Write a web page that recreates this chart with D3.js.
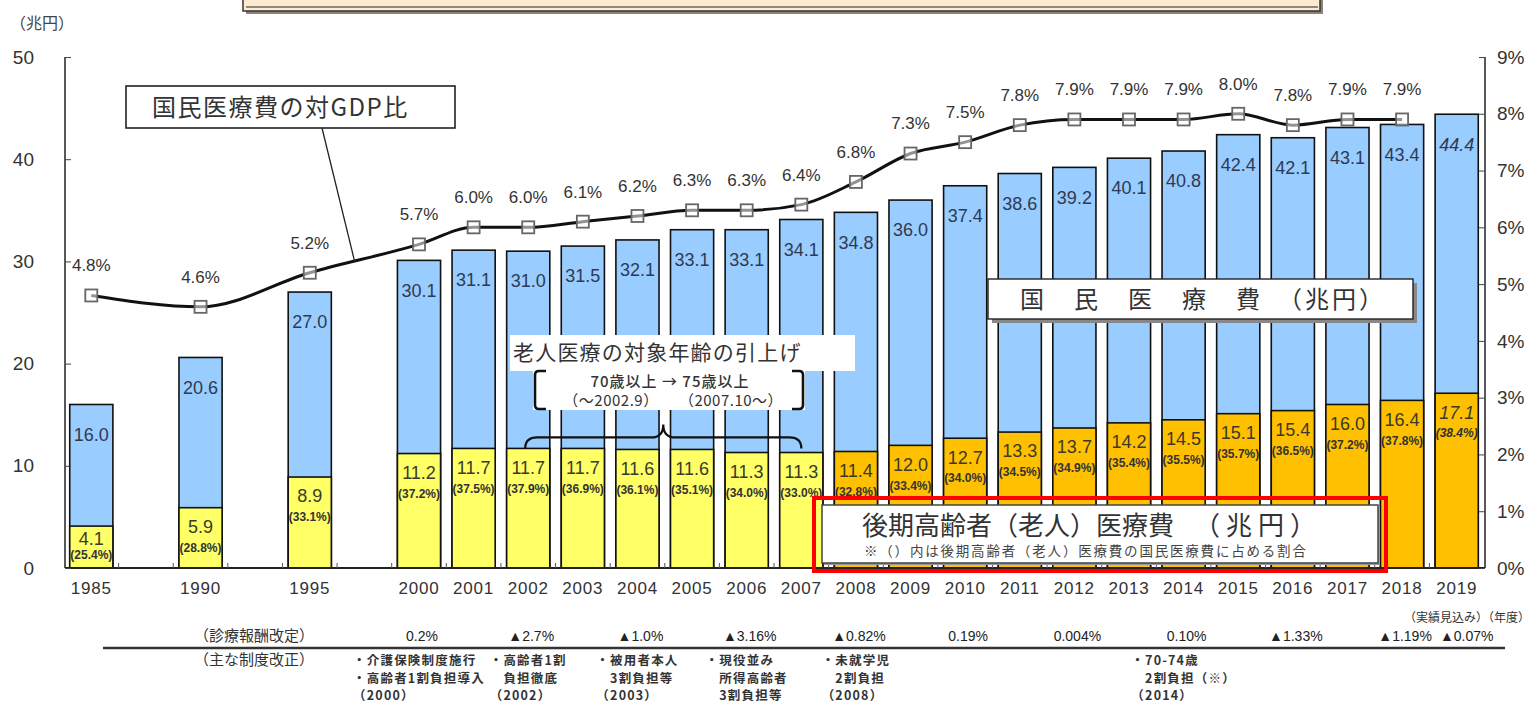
<!DOCTYPE html>
<html lang="ja">
<head>
<meta charset="utf-8">
<title>国民医療費・後期高齢者医療費の推移</title>
<script src="https://cdn.jsdelivr.net/npm/d3@7"></script>
<style>
  html, body { margin: 0; padding: 0; background: #fff; }
  svg { display: block; }
  .num { font-family: "Liberation Sans", Arial, sans-serif; }
  .jp { font-family: "Noto Sans CJK JP", "Noto Sans", sans-serif; }
</style>
</head>
<body>
<svg id="chart" width="1536" height="707"></svg>
<script>
// 年度
const years = ["1985","1990","1995","2000","2001","2002","2003","2004","2005","2006","2007",
  "2008","2009","2010","2011","2012","2013","2014","2015","2016","2017","2018","2019"];
// 国民医療費（兆円）
const totalCost = [16.0, 20.6, 27.0, 30.1, 31.1, 31.0, 31.5, 32.1, 33.1, 33.1, 34.1,
  34.8, 36.0, 37.4, 38.6, 39.2, 40.1, 40.8, 42.4, 42.1, 43.1, 43.4, 44.4];
// 後期高齢者（老人）医療費（兆円）
const elderlyCost = [4.1, 5.9, 8.9, 11.2, 11.7, 11.7, 11.7, 11.6, 11.6, 11.3, 11.3,
  11.4, 12.0, 12.7, 13.3, 13.7, 14.2, 14.5, 15.1, 15.4, 16.0, 16.4, 17.1];
// 後期高齢者（老人）医療費の国民医療費に占める割合（%）
const elderlyShare = [25.4, 28.8, 33.1, 37.2, 37.5, 37.9, 36.9, 36.1, 35.1, 34.0, 33.0,
  32.8, 33.4, 34.0, 34.5, 34.9, 35.4, 35.5, 35.7, 36.5, 37.2, 37.8, 38.4];
// 国民医療費の対GDP比（%）
const gdpRatio = [4.8, 4.6, 5.2, 5.7, 6.0, 6.0, 6.1, 6.2, 6.3, 6.3, 6.4,
  6.8, 7.3, 7.5, 7.8, 7.9, 7.9, 7.9, 8.0, 7.8, 7.9, 7.9, null];
// 後期高齢者医療制度の開始年度と見込み年度
const lateStageStart = 2008;
const estimateYear = "2019";

// 軸目盛
const leftTicks = [0, 10, 20, 30, 40, 50];
const rightTicks = [0, 1, 2, 3, 4, 5, 6, 7, 8, 9];

// 診療報酬改定
const feeYears = ["2000","2002","2004","2006","2008","2010","2012","2014","2016","2018","2019"];
const feeLabels = ["0.2%","▲2.7%","▲1.0%","▲3.16%","▲0.82%","0.19%","0.004%","0.10%","▲1.33%","▲1.19%","▲0.07%"];

// 主な制度改正
const reformYears = ["2000","2002","2004","2006","2008","2014"];
const reformLines = [
  ["・介護保険制度施行", "・高齢者1割負担導入", " （2000）"],
  ["・高齢者1割", "　負担徹底", " （2002）"],
  ["・被用者本人", "　3割負担等", "（2003）"],
  ["・現役並み", "　所得高齢者", "　3割負担等", "（2006）"],
  ["・未就学児", "　2割負担", "（2008）"],
  ["・70-74歳", "　2割負担（※）", " （2014）"]
];

const W = 1536, H = 707;
const plot = { left: 65, right: 1485, top: 57, bottom: 568 };

const svg = d3.select("#chart");

// 1985・1990・1995 の後ろに空きを入れた横位置
const slots = years.flatMap(y => (["1985","1990","1995"].includes(y) ? [y, "gap" + y] : [y]));
const x = d3.scaleBand().domain(slots).range([plot.left - 1, plot.right - 1])
  .paddingInner(0.21).paddingOuter(0.105);
const cx = y => x(y) + x.bandwidth() / 2;
const yL = d3.scaleLinear().domain([0, 50]).range([plot.bottom, plot.top]);
const yR = d3.scaleLinear().domain([0, 9]).range([plot.bottom, plot.top]);

const rows = years.map((y, i) => ({
  year: y, total: totalCost[i], elderly: elderlyCost[i], share: elderlyShare[i], gdp: gdpRatio[i]
}));

// 上部のタイトル枠（上端のみ表示）
svg.append("rect").attr("x", 246).attr("y", -30).attr("width", 1077).attr("height", 44)
  .attr("fill", "#8a8478");
svg.append("rect").attr("x", 243).attr("y", -30).attr("width", 1077).attr("height", 41)
  .attr("fill", "#fcebd0").attr("stroke", "#3a3530").attr("stroke-width", 1.5);
svg.append("line").attr("x1", 246).attr("x2", 1318).attr("y1", 7).attr("y2", 7)
  .attr("stroke", "#8f8a80").attr("stroke-width", 2);

// 単位
svg.append("text").attr("class", "jp").attr("x", 10).attr("y", 29)
  .attr("font-size", 16).attr("fill", "#444").text("（兆円）");

// 国民医療費の棒
const bars = svg.append("g");
bars.selectAll("rect.total").data(rows).join("rect").attr("class", "total")
  .attr("x", d => x(d.year)).attr("width", x.bandwidth())
  .attr("y", d => yL(d.total)).attr("height", d => yL(0) - yL(d.total))
  .attr("fill", "#99ccff").attr("stroke", "#111").attr("stroke-width", 1.6);

// 後期高齢者（老人）医療費の棒
bars.selectAll("rect.elderly").data(rows).join("rect").attr("class", "elderly")
  .attr("x", d => x(d.year)).attr("width", x.bandwidth())
  .attr("y", d => yL(d.elderly)).attr("height", d => yL(0) - yL(d.elderly))
  .attr("fill", d => (+d.year >= lateStageStart ? "#ffc000" : "#ffff66"))
  .attr("stroke", "#111").attr("stroke-width", 1.6);

// 軸
const axisG = svg.append("g").attr("stroke", "#222");
axisG.append("line").attr("x1", plot.left).attr("x2", plot.left)
  .attr("y1", plot.top).attr("y2", plot.bottom).attr("stroke-width", 1.5);
axisG.append("line").attr("x1", plot.right).attr("x2", plot.right)
  .attr("y1", plot.top).attr("y2", plot.bottom).attr("stroke-width", 1.5);
axisG.append("line").attr("x1", plot.left).attr("x2", plot.right)
  .attr("y1", plot.bottom).attr("y2", plot.bottom).attr("stroke-width", 2);

const leftAxis = d3.axisRight(yL).tickValues(leftTicks).tickSize(6).tickFormat("");
svg.append("g").attr("transform", `translate(${plot.left},0)`).call(leftAxis)
  .call(g => g.select(".domain").remove())
  .call(g => g.selectAll("line").attr("stroke", "#444").attr("stroke-width", 1));
svg.append("g").selectAll("text").data(leftTicks).join("text").attr("class", "num")
  .attr("x", 34).attr("y", d => yL(d)).attr("dy", "0.35em").attr("text-anchor", "end")
  .attr("font-size", 19).attr("fill", "#333").text(d => d);

const rightAxis = d3.axisLeft(yR).tickValues(rightTicks).tickSize(6).tickFormat("");
svg.append("g").attr("transform", `translate(${plot.right},0)`).call(rightAxis)
  .call(g => g.select(".domain").remove())
  .call(g => g.selectAll("line").attr("stroke", "#444").attr("stroke-width", 1));
svg.append("g").selectAll("text").data(rightTicks).join("text").attr("class", "num")
  .attr("x", 1497).attr("y", d => yR(d)).attr("dy", "0.35em")
  .attr("font-size", 19).attr("fill", "#333").text(d => d + "%");

// 横軸の区切り目盛
const boundaries = slots.slice(1).map(s => x(s) - x.step() * x.paddingInner() / 2);
svg.append("g").selectAll("line").data(boundaries).join("line")
  .attr("x1", d => d).attr("x2", d => d).attr("y1", plot.bottom).attr("y2", plot.bottom - 5)
  .attr("stroke", "#555").attr("stroke-width", 1);

// 年度ラベル
svg.append("g").selectAll("text").data(years).join("text").attr("class", "num")
  .attr("x", d => cx(d)).attr("y", 594).attr("text-anchor", "middle")
  .attr("font-size", 17).attr("letter-spacing", 0.8).attr("fill", "#333").text(d => d);

// 棒の数値
const valueFont = 18;
// 割合ラベルは棒の内側に収める
const shareY = d => Math.min(yL(d.elderly) + 40, plot.bottom - 13);
const elderlyY = d => Math.min(yL(d.elderly) + 19, shareY(d) - 16);
svg.append("g").selectAll("text").data(rows).join("text").attr("class", "num")
  .attr("x", d => cx(d.year)).attr("y", d => yL(d.total) + 30)
  .attr("dy", "0.35em").attr("text-anchor", "middle")
  .attr("font-size", valueFont).attr("fill", "#2f3a52")
  .attr("font-style", d => (d.year === estimateYear ? "italic" : "normal"))
  .text(d => d.total.toFixed(1));
svg.append("g").selectAll("text").data(rows).join("text").attr("class", "num")
  .attr("x", d => cx(d.year)).attr("y", elderlyY)
  .attr("dy", "0.35em").attr("text-anchor", "middle")
  .attr("font-size", valueFont).attr("fill", "#3a3a2a")
  .attr("font-style", d => (d.year === estimateYear ? "italic" : "normal"))
  .text(d => d.elderly.toFixed(1));
svg.append("g").selectAll("text").data(rows).join("text").attr("class", "num")
  .attr("x", d => cx(d.year)).attr("y", shareY)
  .attr("dy", "0.35em").attr("text-anchor", "middle")
  .attr("font-size", 12).attr("font-weight", "bold").attr("fill", "#333")
  .attr("font-style", d => (d.year === estimateYear ? "italic" : "normal"))
  .text(d => `(${d.share.toFixed(1)}%)`);

// 対GDP比の折れ線
const gdpRows = rows.filter(d => d.gdp != null);
const line = d3.line().x(d => cx(d.year)).y(d => yR(d.gdp)).curve(d3.curveMonotoneX);
svg.append("path").datum(gdpRows).attr("d", line)
  .attr("fill", "none").attr("stroke", "#111").attr("stroke-width", 3);
svg.append("g").selectAll("rect").data(gdpRows).join("rect")
  .attr("x", d => cx(d.year) - 6).attr("y", d => yR(d.gdp) - 6)
  .attr("width", 12).attr("height", 12)
  .attr("fill", "rgba(255,255,255,0.55)").attr("stroke", "#666").attr("stroke-width", 1.8);
svg.append("g").selectAll("text").data(gdpRows).join("text").attr("class", "num")
  .attr("x", d => cx(d.year)).attr("y", d => yR(d.gdp) - 30)
  .attr("dy", "0.35em").attr("text-anchor", "middle")
  .attr("font-size", 17).attr("fill", "#333").text(d => d.gdp.toFixed(1) + "%");

// 「国民医療費の対GDP比」の枠と引出線
const gdpA = gdpRows.find(d => d.year === "1995"), gdpB = gdpRows.find(d => d.year === "2000");
const leadX = cx("1995") + (cx("2000") - cx("1995")) * 0.41;
const leadY = yR(gdpA.gdp + (gdpB.gdp - gdpA.gdp) * 0.41);
svg.append("line").attr("x1", 322).attr("y1", 128).attr("x2", leadX).attr("y2", leadY)
  .attr("stroke", "#222").attr("stroke-width", 1.3);
svg.append("rect").attr("x", 126).attr("y", 86).attr("width", 329).attr("height", 42)
  .attr("fill", "#fff").attr("stroke", "#222").attr("stroke-width", 1.6);
svg.append("text").attr("class", "jp").attr("x", 152).attr("y", 108).attr("dy", "0.35em")
  .attr("font-size", 24).attr("letter-spacing", 1.5).attr("fill", "#333")
  .text("国民医療費の対GDP比");

// 「国民医療費（兆円）」の枠
svg.append("rect").attr("x", 992).attr("y", 283).attr("width", 425).attr("height", 40).attr("fill", "#888");
svg.append("rect").attr("x", 988).attr("y", 279).attr("width", 425).attr("height", 40)
  .attr("fill", "#fff").attr("stroke", "#222").attr("stroke-width", 1.4);
svg.append("text").attr("class", "jp").attr("x", 1020).attr("y", 300).attr("dy", "0.35em")
  .attr("font-size", 24).attr("letter-spacing", 3).attr("fill", "#333")
  .text("国　民　医　療　費　（兆円）");

// 老人医療の対象年齢の引上げ
const braceL = cx("2002") - 3, braceR = cx("2007");
const braceMid = (braceL + braceR) / 2;
const braceBase = yL(11.7) - 11, braceTip = braceBase - 13;
svg.append("path")
  .attr("d", `M${braceL},${braceBase + 11} Q${braceL},${braceBase} ${braceL + 12},${braceBase}
    L${braceMid - 12},${braceBase} Q${braceMid},${braceBase} ${braceMid},${braceTip}
    Q${braceMid},${braceBase} ${braceMid + 12},${braceBase}
    L${braceR - 12},${braceBase} Q${braceR},${braceBase} ${braceR},${braceBase + 11}`)
  .attr("fill", "none").attr("stroke", "#111").attr("stroke-width", 2.2);

svg.append("rect").attr("x", 510).attr("y", 335).attr("width", 345).attr("height", 36)
  .attr("fill", "#fff");
svg.append("text").attr("class", "jp").attr("x", 513).attr("y", 353).attr("dy", "0.35em")
  .attr("font-size", 21).attr("letter-spacing", 1.2).attr("fill", "#333")
  .text("老人医療の対象年齢の引上げ");

svg.append("rect").attr("x", 533).attr("y", 370).attr("width", 272).attr("height", 40)
  .attr("fill", "#fff");
svg.append("path").attr("d", "M546,371 L539,371 Q535,371 535,375 L535,405 Q535,409 539,409 L546,409")
  .attr("fill", "none").attr("stroke", "#111").attr("stroke-width", 2.6);
svg.append("path").attr("d", "M792,371 L799,371 Q803,371 803,375 L803,405 Q803,409 799,409 L792,409")
  .attr("fill", "none").attr("stroke", "#111").attr("stroke-width", 2.6);
svg.append("text").attr("class", "jp").attr("x", 670).attr("y", 382).attr("dy", "0.35em")
  .attr("text-anchor", "middle").attr("font-size", 15).attr("font-weight", 500)
  .attr("letter-spacing", 1).attr("fill", "#333")
  .text("70歳以上 → 75歳以上");
svg.append("text").attr("class", "jp").attr("x", 611).attr("y", 401).attr("dy", "0.35em")
  .attr("text-anchor", "middle").attr("font-size", 15).attr("letter-spacing", 0.5)
  .attr("fill", "#333").text("（～2002.9）");
svg.append("text").attr("class", "jp").attr("x", 731).attr("y", 401).attr("dy", "0.35em")
  .attr("text-anchor", "middle").attr("font-size", 15).attr("letter-spacing", 0.5)
  .attr("fill", "#333").text("（2007.10～）");

// 「後期高齢者（老人）医療費（兆円）」の枠
svg.append("rect").attr("x", 824).attr("y", 507).attr("width", 556).attr("height", 58).attr("fill", "#999");
svg.append("rect").attr("x", 822).attr("y", 505).attr("width", 556).attr("height", 58)
  .attr("fill", "#fff").attr("stroke", "#444").attr("stroke-width", 1.5);
const legendText = svg.append("text").attr("class", "jp").attr("x", 862).attr("y", 526)
  .attr("dy", "0.35em").attr("font-size", 26).attr("fill", "#333");
legendText.append("tspan").text("後期高齢者（老人）医療費");
legendText.append("tspan").attr("dx", 20).attr("letter-spacing", 6).text("（兆円）");
svg.append("text").attr("class", "jp").attr("x", 864).attr("y", 551).attr("dy", "0.35em")
  .attr("font-size", 13.5).attr("letter-spacing", 1.8).attr("fill", "#444")
  .text("※（）内は後期高齢者（老人）医療費の国民医療費に占める割合");
svg.append("rect").attr("x", 814).attr("y", 498).attr("width", 572).attr("height", 73)
  .attr("fill", "none").attr("stroke", "#ff0000").attr("stroke-width", 4);

// 見込み・年度の注記
svg.append("text").attr("class", "jp").attr("x", 1530).attr("y", 618).attr("dy", "0.35em")
  .attr("text-anchor", "end").attr("font-size", 12).attr("fill", "#333")
  .text("（実績見込み）（年度）");

// 診療報酬改定と主な制度改正
svg.append("line").attr("x1", 103).attr("x2", 1505).attr("y1", 648).attr("y2", 648)
  .attr("stroke", "#333").attr("stroke-width", 2.5);
svg.append("text").attr("class", "jp").attr("x", 254).attr("y", 636).attr("dy", "0.35em")
  .attr("text-anchor", "middle").attr("font-size", 15).attr("fill", "#333").text("（診療報酬改定）");
svg.append("text").attr("class", "jp").attr("x", 254).attr("y", 660).attr("dy", "0.35em")
  .attr("text-anchor", "middle").attr("font-size", 15).attr("fill", "#333").text("（主な制度改正）");

svg.append("g").selectAll("text").data(feeYears).join("text").attr("class", "num")
  .attr("x", (d, i) => cx(d) + (d === estimateYear ? 10 : 3)).attr("y", 636).attr("dy", "0.35em")
  .attr("text-anchor", "middle").attr("font-size", 14).attr("fill", "#222")
  .text((d, i) => feeLabels[i]);

reformYears.forEach((yr, i) => {
  const g = svg.append("g");
  const texts = g.selectAll("text").data(reformLines[i]).join("text").attr("class", "jp")
    .attr("y", (d, j) => 661 + j * 17.5).attr("dy", "0.35em")
    .attr("font-size", 12.5).attr("font-weight", 700).attr("letter-spacing", 1.2)
    .attr("fill", "#333").text(d => d);
  const maxW = d3.max(texts.nodes(), n => n.getComputedTextLength());
  texts.attr("x", cx(yr) - maxW / 2);
});
</script>
</body>
</html>
